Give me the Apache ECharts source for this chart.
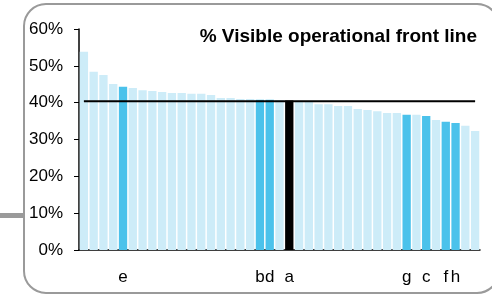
<!DOCTYPE html>
<html>
<head>
<meta charset="utf-8">
<script src="https://cdn.jsdelivr.net/npm/echarts@6/dist/echarts.min.js"></script>
<style>
  html, body { margin: 0; padding: 0; background: #fff; }
  #chartmain { width: 492px; height: 294px; }
</style>
</head>
<body>
<div id="chartmain"></div>
<script>
// bar labels (only some bars are named)
var categories = ['', '', '', '', 'e', '', '', '', '', '', '', '', '', '', '', '', '', '', 'b', 'd',
                  '', 'a', '', '', '', '', '', '', '', '', '', '', '', 'g', '', 'c', '', 'f', 'h', '', ''];
var values = [53.8, 48.4, 47.5, 45.1, 44.3, 44.0, 43.4, 43.2, 42.9, 42.6, 42.6, 42.4, 42.4, 42.1, 41.3,
              41.3, 41.0, 41.0, 40.8, 40.8, 40.7, 40.6, 40.5, 40.2, 39.6, 39.6, 39.1, 39.1, 38.3, 38.0,
              37.7, 37.2, 37.2, 36.7, 36.7, 36.4, 35.3, 34.8, 34.5, 33.7, 32.3];
var highlighted = ['e', 'b', 'd', 'g', 'c', 'f', 'h'];
var benchmark = 'a';
var average = 40.4;
var yTicks = [0, 10, 20, 30, 40, 50, 60];
var title = '% Visible operational front line';

var font = '"Liberation Sans", Arial, sans-serif';

var barData = values.map(function (v, i) {
    var c = '#cdecf8';
    if (categories[i] === benchmark) c = '#000000';
    else if (highlighted.indexOf(categories[i]) >= 0) c = '#4bc2eb';
    return { value: v, itemStyle: { color: c } };
});
var lineData = values.map(function () { return average; });

var chart = echarts.init(document.getElementById('chartmain'));
chart.setOption({
    animation: false,
    textStyle: { fontFamily: font },
    title: {
        text: title,
        right: 10,
        top: 22,
        textStyle: { fontFamily: font, fontSize: 19, fontWeight: 'bold', color: '#000' }
    },
    graphic: [
        { type: 'rect', z: -1, shape: { x: 0, y: 213, width: 24, height: 5 }, style: { fill: '#9a9a9a' } },
        { type: 'rect', z: -1, shape: { x: 24, y: 4, width: 475, height: 289, r: 22 },
          style: { fill: 'none', stroke: '#9a9a9a', lineWidth: 2 } }
    ],
    grid: { left: 79, right: 12, top: 29, bottom: 44 },
    xAxis: {
        type: 'category',
        data: categories,
        axisLine: { lineStyle: { color: '#000', width: 1.5 } },
        axisTick: { show: false },
        axisLabel: { interval: 0, margin: 19, fontSize: 17, color: '#000', fontFamily: font }
    },
    yAxis: {
        type: 'value',
        min: yTicks[0],
        max: yTicks[yTicks.length - 1],
        interval: 10,
        splitLine: { show: false },
        axisLine: { show: true, lineStyle: { color: '#000', width: 1.5 } },
        axisTick: { show: true, length: 5, lineStyle: { color: '#000' } },
        axisLabel: { formatter: '{value}%', fontSize: 17, color: '#000', margin: 16, fontFamily: font }
    },
    series: [
        {
            type: 'bar',
            data: barData,
            barCategoryGap: '15%'
        },
        {
            type: 'line',
            data: lineData,
            symbol: 'none',
            lineStyle: { color: '#000', width: 2 },
            z: 5
        }
    ]
});
</script>
</body>
</html>
